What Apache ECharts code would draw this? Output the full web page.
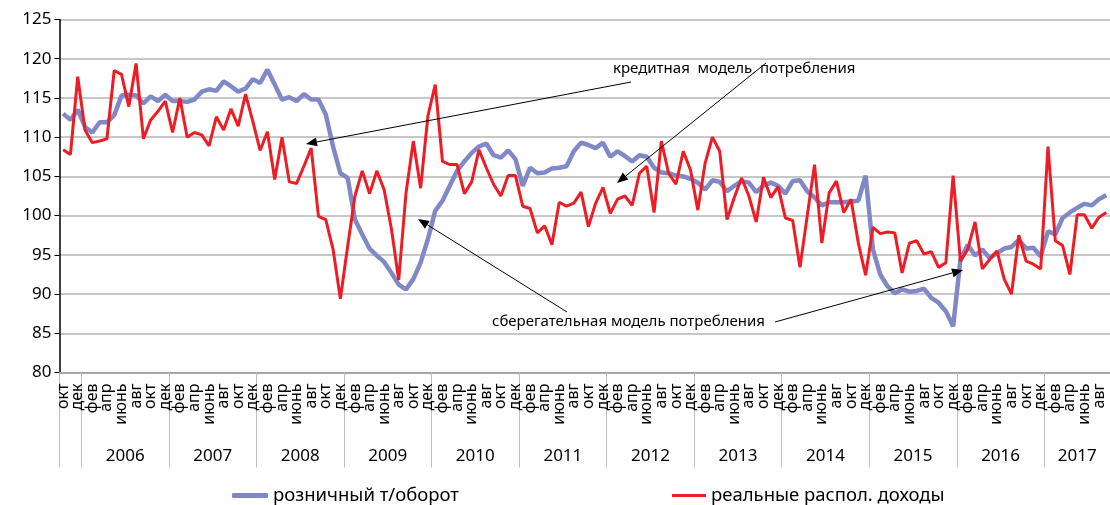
<!DOCTYPE html>
<html>
<head>
<meta charset="utf-8">
<script src="https://cdn.jsdelivr.net/npm/echarts@6/dist/echarts.min.js"></script>
<style>
  html, body { margin: 0; background: #fff; }
  #chart { width: 1110px; height: 505px; }
</style>
</head>
<body>
<div id="chart"></div>
<script>
// --- данные ---
const monthNames = ['янв', 'фев', 'мар', 'апр', 'май', 'июнь', 'июль', 'авг', 'сен', 'окт', 'ноя', 'дек'];
const startYear = 2005;
const startMonth = 9; // октябрь
const monthCount = 144;

const seriesNames = ['розничный т/оборот', 'реальные распол. доходы'];

// розничный товарооборот
const retail = [
  113.0, 112.2, 113.5, 111.3, 110.6, 111.9, 111.9, 112.8, 115.3, 115.4,
  115.3, 114.3, 115.2, 114.6, 115.4, 114.6, 114.6, 114.5, 114.8, 115.8,
  116.1, 115.9, 117.1, 116.5, 115.8, 116.2, 117.4, 116.9, 118.6, 116.7,
  114.8, 115.1, 114.6, 115.5, 114.8, 114.8, 112.9, 108.8, 105.4, 104.8,
  99.5, 97.6, 95.8, 94.9, 94.1, 92.7, 91.2, 90.6, 91.9, 94.0,
  97.0, 100.6, 101.9, 103.8, 105.7, 106.9, 108.0, 108.8, 109.2, 107.7,
  107.4, 108.3, 107.2, 103.8, 106.1, 105.4, 105.5, 106.0, 106.1, 106.3,
  108.2, 109.3, 109.0, 108.6, 109.3, 107.5, 108.2, 107.6, 106.9, 107.7,
  107.5, 106.1, 105.5, 105.4, 105.1, 105.0, 104.7, 104.2, 103.3, 104.5,
  104.3, 103.1, 103.8, 104.4, 104.2, 103.0, 103.8, 104.2, 103.8, 102.8,
  104.4, 104.5, 103.1, 102.3, 101.3, 101.7, 101.7, 101.7, 101.8, 101.9,
  105.1, 95.7, 92.5, 91.0, 90.1, 90.6, 90.3, 90.4, 90.7, 89.5,
  88.9, 87.8, 85.9, 94.4, 96.3, 94.9, 95.7, 94.6, 95.2, 95.8,
  96.0, 96.9, 95.8, 95.9, 94.8, 98.0, 97.6, 99.7, 100.4, 101.0,
  101.5, 101.3, 102.1, 102.6
];

// реальные располагаемые доходы
const income = [
  108.4, 107.8, 117.7, 110.9, 109.3, 109.5, 109.8, 118.5, 118.0, 113.9,
  119.4, 109.8, 112.2, 113.3, 114.6, 110.6, 115.0, 110.0, 110.6, 110.3,
  108.9, 112.6, 110.9, 113.6, 111.4, 115.5, 112.0, 108.3, 110.7, 104.6,
  110.0, 104.3, 104.1, 106.3, 108.6, 99.9, 99.5, 95.7, 89.4, 96.1,
  102.5, 105.7, 102.8, 105.7, 103.3, 98.3, 91.8, 102.9, 109.5, 103.5,
  112.7, 116.7, 106.9, 106.5, 106.5, 102.8, 104.3, 108.4, 106.1, 104.0,
  102.5, 105.1, 105.1, 101.2, 100.9, 97.8, 98.7, 96.3, 101.7, 101.2,
  101.6, 103.0, 98.6, 101.6, 103.6, 100.3, 102.1, 102.5, 101.3, 105.4,
  106.3, 100.4, 109.5, 105.4, 104.0, 108.2, 105.8, 100.7, 106.7, 110.0,
  108.2, 99.5, 102.3, 104.8, 102.5, 99.2, 104.9, 102.3, 103.7, 99.7,
  99.4, 93.4, 100.0, 106.5, 96.5, 102.9, 104.4, 100.4, 102.1, 96.5,
  92.4, 98.5, 97.7, 97.9, 97.8, 92.7, 96.5, 96.8, 95.1, 95.4,
  93.4, 94.0, 105.1, 94.2, 95.7, 99.2, 93.2, 94.4, 95.5, 91.9,
  90.0, 97.5, 94.2, 93.8, 93.2, 108.8, 96.8, 96.2, 92.5, 100.1,
  100.1, 98.4, 99.8, 100.4
];

const yTicks = { min: 80, max: 125, step: 5 };

// подписи на графике
const notes = [
  { text: 'кредитная  модель  потребления', x: 613, y: 69 },
  { text: 'сберегательная модель потребления', x: 492, y: 322 }
];
const arrows = [
  [631, 82, 306, 144],
  [766, 63, 617, 183],
  [567, 312, 418, 219],
  [775, 322, 963, 270]
];

// --- оси ---
const months = [];
const yearStarts = [0];
for (let k = 0; k < monthCount; k++) {
  const m = (startMonth + k) % 12;
  months.push(monthNames[m]);
  if (m === 0 && k > 0) yearStarts.push(k);
}
// подпись года по центру его отрезка (короткий 2005 не подписан)
const yearLabelPos = [];
const yearLabelText = {};
for (let j = 0; j < yearStarts.length; j++) {
  const a = yearStarts[j];
  const b = j + 1 < yearStarts.length ? yearStarts[j + 1] : monthCount;
  if (b - a >= 6) {
    const c = (a + b) / 2;
    yearLabelPos.push(c);
    yearLabelText[c] = String(startYear + Math.floor((startMonth + a) / 12));
  }
}

function arrowGraphic([x1, y1, x2, y2]) {
  const ang = Math.atan2(y2 - y1, x2 - x1);
  const len = 11, half = 4.5;
  const bx = x2 - len * Math.cos(ang), by = y2 - len * Math.sin(ang);
  const nx = -Math.sin(ang) * half, ny = Math.cos(ang) * half;
  return [
    { type: 'line', z: 100, shape: { x1, y1, x2: bx, y2: by }, style: { stroke: '#000', lineWidth: 1 } },
    { type: 'polygon', z: 100, shape: { points: [[x2, y2], [bx + nx, by + ny], [bx - nx, by - ny]] }, style: { fill: '#000' } }
  ];
}

const chart = echarts.init(document.getElementById('chart'));
const font = 'Noto Sans';

chart.setOption({
  animation: false,
  textStyle: { fontFamily: font },
  grid: { left: 59.5, top: 19.5, width: 1060, height: 353 },
  legend: [
    {
      data: [seriesNames[0]], left: 227, top: 481, icon: 'roundRect',
      itemWidth: 36, itemHeight: 5, textStyle: { fontSize: 18.5, color: '#000', fontFamily: font }
    },
    {
      data: [seriesNames[1]], left: 667, top: 481, icon: 'rect',
      itemWidth: 34, itemHeight: 3, textStyle: { fontSize: 18.5, color: '#000', fontFamily: font }
    }
  ],
  xAxis: [
    {
      type: 'category',
      data: months,
      axisLine: { lineStyle: { color: '#a6a6a6', width: 2 } },
      axisTick: { interval: 0, length: 57, lineStyle: { color: '#bfbfbf' } },
      axisLabel: {
        interval: 0, rotate: 90, margin: 11, fontSize: 16, color: '#000', fontFamily: font,
        showMinLabel: true, showMaxLabel: false, hideOverlap: false,
        // подписи через месяц: окт, дек, фев, ...
        formatter: (v, idx) => (idx % 2 === 0 ? v : '')
      }
    },
    {
      type: 'value',
      position: 'bottom',
      min: 0,
      max: monthCount,
      axisLine: { show: false },
      splitLine: { show: false },
      axisTick: { show: true, customValues: yearStarts, length: 95, lineStyle: { color: '#bfbfbf' } },
      axisLabel: {
        customValues: yearLabelPos, margin: 75, fontSize: 17, color: '#000', fontFamily: font,
        formatter: (v) => yearLabelText[v] || ''
      }
    }
  ],
  yAxis: {
    type: 'value',
    min: yTicks.min,
    max: yTicks.max,
    interval: yTicks.step,
    axisLine: { show: true, lineStyle: { color: '#000', width: 1.5 } },
    axisTick: { show: true, length: 5, lineStyle: { color: '#000' } },
    axisLabel: { fontSize: 17, color: '#000', margin: 8, fontFamily: font },
    splitLine: { lineStyle: { color: '#b5b5b5', width: 1.5 } }
  },
  series: [
    {
      name: seriesNames[0], type: 'line', data: retail, symbol: 'none',
      lineStyle: { color: '#8088c6', width: 4.5 }, itemStyle: { color: '#8088c6' }
    },
    {
      name: seriesNames[1], type: 'line', data: income, symbol: 'none',
      lineStyle: { color: '#ee1c25', width: 3 }, itemStyle: { color: '#ee1c25' }
    }
  ],
  graphic: [
    ...notes.map((n) => ({
      type: 'text', z: 100, x: n.x, y: n.y,
      style: { text: n.text, font: '15px "' + font + '"', fill: '#000', verticalAlign: 'middle' }
    })),
    ...arrows.flatMap(arrowGraphic)
  ]
});
</script>
</body>
</html>
